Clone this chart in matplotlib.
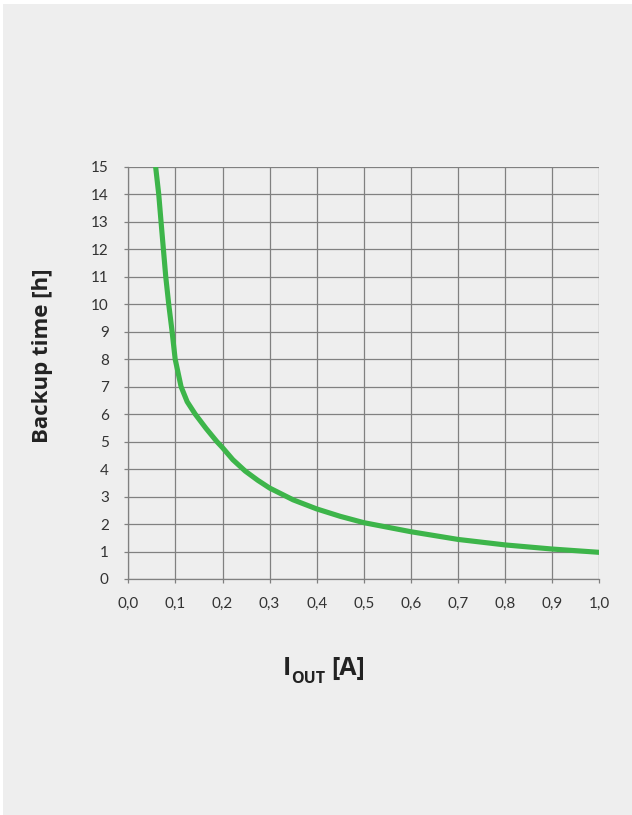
import matplotlib
matplotlib.use("Agg")
import matplotlib.pyplot as plt
from matplotlib.patches import Rectangle

# current [A] vs backup time [h]
i_out = [0.058, 0.0646, 0.0695, 0.0745, 0.0795, 0.0858, 0.0930, 0.0995, 0.112, 0.125,
         0.142, 0.165, 0.188, 0.200, 0.222, 0.248, 0.275, 0.300, 0.350, 0.400,
         0.450, 0.500, 0.600, 0.700, 0.800, 0.900, 1.000]
backup = [15.0, 14.0, 13.0, 12.0, 11.0, 10.0, 9.0, 8.0, 7.0, 6.45,
          6.0, 5.48, 5.0, 4.78, 4.34, 3.93, 3.59, 3.31, 2.88, 2.55,
          2.28, 2.05, 1.72, 1.44, 1.24, 1.09, 0.97]

x_ticks = [i / 10 for i in range(11)]
x_labels = ["0,0", "0,1", "0,2", "0,3", "0,4", "0,5", "0,6", "0,7", "0,8", "0,9", "1,0"]
y_ticks = list(range(16))

bg = "#eeeeee"
grid = "#808080"

fig = plt.figure(figsize=(6.32, 8.15), dpi=100, facecolor="white")
fig.patches.append(Rectangle((3 / 632, 0), 1, 1 - 4 / 815, transform=fig.transFigure,
                             facecolor=bg, edgecolor="none", zorder=-10))
ax = fig.add_axes([128.3 / 632, 1 - 579 / 815, 471 / 632, 412.3 / 815])
ax.set_facecolor(bg)

ax.plot(i_out, backup, color="#3db54a", lw=3.7, solid_capstyle="butt",
        solid_joinstyle="round", zorder=3)

ax.set_xlim(0, 1.0)
ax.set_ylim(0, 15)
ax.set_xticks(x_ticks)
ax.set_xticklabels(x_labels)
ax.set_yticks(y_ticks)
ax.grid(True, color=grid, lw=0.9)
for s in ["top", "right"]:
    ax.spines[s].set_visible(False)
for s in ["left", "bottom"]:
    ax.spines[s].set_color(grid)
    ax.spines[s].set_linewidth(0.9)
ax.tick_params(direction="out", length=3, width=0.9, color=grid,
               labelsize=11, labelcolor="#333333")
ax.tick_params(axis="y", pad=11)
ax.tick_params(axis="x", pad=10)
for lab in ax.get_xticklabels() + ax.get_yticklabels():
    lab.set_fontfamily("Lato")

fig.text(43 / 632, 1 - 356 / 815, "Backup time [h]", rotation=90, ha="center", va="center",
         fontsize=16, fontweight="bold", family="Open Sans", color="#222222")
# x label: I + lowered small OUT + [A]
tc = "#222222"
fig.text(283 / 632, 1 - 675 / 815, "I", ha="left", va="baseline",
         fontsize=18, fontweight="bold", family="Open Sans", color=tc)
fig.text(291 / 632, 1 - 683 / 815, "OUT", ha="left", va="baseline",
         fontsize=11.5, fontweight="bold", family="Open Sans", color=tc)
fig.text(331 / 632, 1 - 675 / 815, "[A]", ha="left", va="baseline",
         fontsize=18, fontweight="bold", family="Open Sans", color=tc)

fig.savefig("out.png", dpi=100, facecolor=fig.get_facecolor())
